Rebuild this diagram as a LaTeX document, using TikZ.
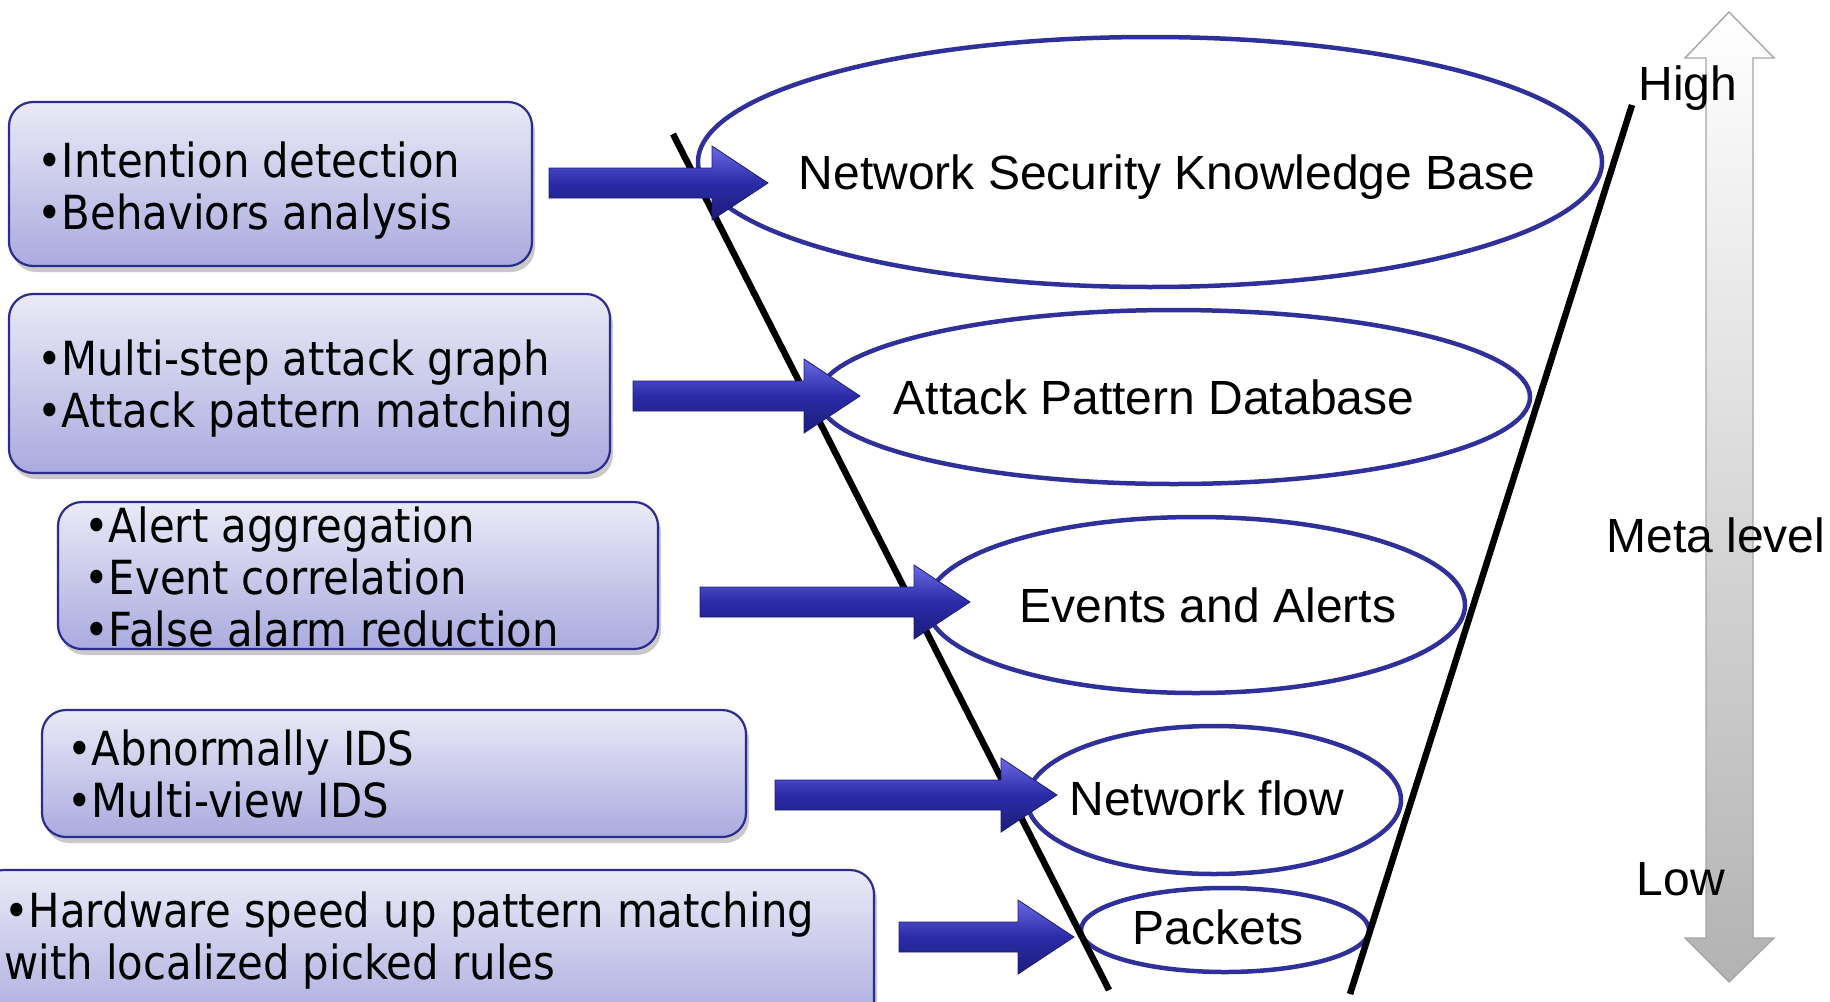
\documentclass[tikz,border=0pt]{standalone}
\usepackage{fontspec}
\setmainfont{Liberation Sans}
\newfontfamily\boxfont[FakeStretch=0.89]{DejaVu Sans}
\usetikzlibrary{calc,shadows,shapes.geometric}
\definecolor{boxtop}{HTML}{EAEAF7}
\definecolor{boxbot}{HTML}{AAAADF}
\definecolor{navy}{HTML}{2C2C8C}
\definecolor{ellc}{HTML}{30309A}
\definecolor{arrtop}{HTML}{6A6AE6}
\definecolor{arrmid}{HTML}{2B2BA8}
\definecolor{arrbot}{HTML}{1C1C7A}
\tikzset{
  panel/.style={draw=navy, line width=2.2pt, rounded corners=24pt,
    top color=boxtop, bottom color=boxbot,
    drop shadow={shadow xshift=3pt, shadow yshift=-6pt, opacity=0.3, fill=black!70}},
  paneltext/.style={font=\boxfont\fontsize{47}{52}\selectfont, align=left, anchor=west, inner sep=0pt},
  layer/.style={draw=ellc, line width=4.5pt, ellipse, inner sep=0pt},
  layertext/.style={font=\fontsize{48}{54}\selectfont, inner sep=0pt},
  scaletext/.style={font=\fontsize{48}{54}\selectfont, inner sep=0pt},
  arrowfill/.style={top color=arrtop, bottom color=arrbot, middle color=arrmid, draw=arrbot, line width=0.8pt},
  funnel/.style={line width=6.5pt, black},
}
\newcommand{\fatarrow}[2]{%
  \path[arrowfill] ($(#1)+(0,-15)$) -- ($(#2)+(-56,-15)$) -- ($(#2)+(-56,-37)$) -- (#2)
    -- ($(#2)+(-56,37)$) -- ($(#2)+(-56,15)$) -- ($(#1)+(0,15)$) -- cycle;}
\begin{document}
\begin{tikzpicture}[x=1pt,y=-1pt]
\useasboundingbox (0,0) rectangle (1830,1001);

% panels
\path[panel] (9,102) rectangle (532,266);
\node[paneltext] (t1) at (37,191) {•Intention detection\\•Behaviors analysis};
\path[panel] (9,294) rectangle (610,473);
\node[paneltext] (t2) at (37,389) {•Multi-step attack graph\\•Attack pattern matching};
\path[panel] (58,502) rectangle (658,649);
\node[paneltext] (t3) at (84,577) {•Alert aggregation\\•Event correlation\\•False alarm reduction};
\path[panel] (42,710) rectangle (746,837);
\node[paneltext] (t4) at (67,774) {•Abnormally IDS\\•Multi-view IDS};
\path[panel] (-20,870) rectangle (874,1030);
\node[paneltext] (t5) at (4,941) {•Hardware speed up pattern matching\\with localized picked rules};

% grey scale arrow
\path[top color=white, bottom color=black!30, draw=black!35, line width=1.4pt]
  (1729,12) -- (1774,58) -- (1753,58) -- (1753,938) -- (1774,938) -- (1729,982)
  -- (1685,938) -- (1706,938) -- (1706,58) -- (1685,58) -- cycle;
\node[scaletext] (high) at (1688,88) {High};
\node[scaletext] (meta) at (1716,535) {Meta level};
\node[scaletext] (low) at (1681,879) {Low};

% layers
\node[layer, minimum width=904, minimum height=250] (e1) at (1150,162) {};
\node[layer, minimum width=712, minimum height=174] (e2) at (1174,397) {};
\node[layer, minimum width=538, minimum height=176] (e3) at (1196,605) {};
\node[layer, minimum width=374, minimum height=148] (e4) at (1214,800) {};
\node[layer, minimum width=288, minimum height=84] (e5) at (1225,930) {};
\node[layertext] (l1) at (1167,177) {Network Security Knowledge Base};
\node[layertext] (l2) at (1154,397) {Attack Pattern Database};
\node[layertext] (l3) at (1208,605) {Events and Alerts};
\node[layertext] (l4) at (1207,798) {Network flow};
\node[layertext] (l5) at (1218,927) {Packets};

% funnel
\coordinate (fl1) at (673,134);
\coordinate (fl2) at (1109,990);
\coordinate (fr1) at (1632,105);
\coordinate (fr2) at (1350,994);
\draw[funnel] (fl1) -- (fl2);
\draw[funnel] (fr1) -- (fr2);

% arrows
\coordinate (a1s) at (549,183); \coordinate (a1t) at (768,183);
\coordinate (a2s) at (633,396); \coordinate (a2t) at (860,396);
\coordinate (a3s) at (700,602); \coordinate (a3t) at (970,602);
\coordinate (a4s) at (775,795); \coordinate (a4t) at (1057,795);
\coordinate (a5s) at (899,937); \coordinate (a5t) at (1074,937);
\fatarrow{a1s}{a1t}
\fatarrow{a2s}{a2t}
\fatarrow{a3s}{a3t}
\fatarrow{a4s}{a4t}
\fatarrow{a5s}{a5t}
\end{tikzpicture}
\end{document}
